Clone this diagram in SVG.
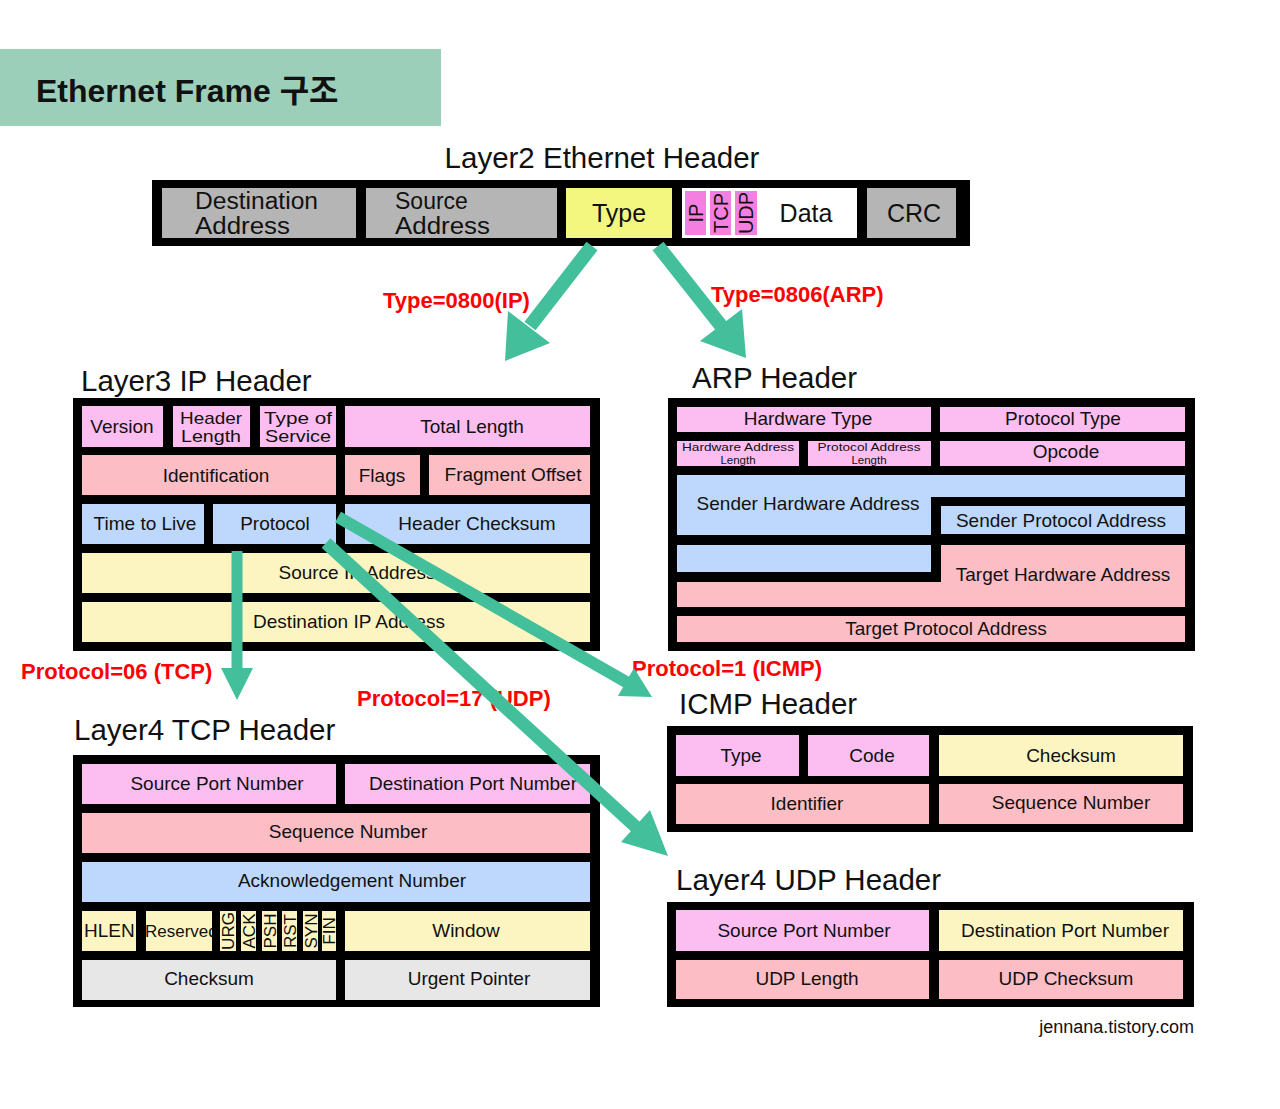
<svg xmlns="http://www.w3.org/2000/svg" width="1280" height="1109" viewBox="0 0 1280 1109">
<style>
text{font-family:"Liberation Sans",Arial,"Noto Sans CJK KR",sans-serif;fill:#111}
.t{font-size:19px;text-anchor:middle}
.t2{font-size:17px;text-anchor:middle}
.ts{font-size:11.5px;text-anchor:middle}
.te{font-size:23px}
.te1{font-size:25px}
.tm{text-anchor:middle}
.tf{font-size:17px;text-anchor:middle}
.h{font-size:29.5px}
.lbl{font-size:22px;font-weight:bold;fill:#ff0000}
.frame{fill:#000}
.pk{fill:#fcbdf0}
.sa{fill:#fdbdc5}
.bl{fill:#bdd8fc}
.yl{fill:#fdf5c1}
.gy{fill:#b5b5b5}
.lg{fill:#e7e7e7}
.ty{fill:#f4f77f}
.hp{fill:#f57fe1}
.wh{fill:#fff}
.shaft{stroke:#43bf9c;fill:none;stroke-linecap:butt}
.head{fill:#43bf9c}
</style>
<defs>
<clipPath id="clipRes"><rect x="146" y="911" width="66" height="40"/></clipPath>
</defs>
<rect width="1280" height="1109" fill="#fff"/>

<g id="title">
<rect x="0" y="49" width="441" height="77" fill="#9ccfba"/>
<text x="36" y="102" style="font-size:32px;font-weight:bold">Ethernet Frame 구조</text>
</g>

<g id="ethernet">
<text x="602" y="168" class="h tm">Layer2 Ethernet Header</text>
<rect class="frame" x="152" y="180" width="818" height="66"/>
<rect class="gy" x="162" y="188" width="194" height="50"/>
<text class="te" x="195" y="209" textLength="123" lengthAdjust="spacingAndGlyphs">Destination</text>
<text class="te" x="195" y="234" textLength="95" lengthAdjust="spacingAndGlyphs">Address</text>
<rect class="gy" x="366" y="188" width="191" height="50"/>
<text class="te" x="395" y="209">Source</text>
<text class="te" x="395" y="234" textLength="95" lengthAdjust="spacingAndGlyphs">Address</text>
<rect class="ty" x="566" y="188" width="106" height="50"/>
<text class="te1 tm" x="619" y="222">Type</text>
<rect class="wh" x="682" y="188" width="175" height="50"/>
<rect class="hp" x="685" y="191" width="21" height="44"/>
<rect class="hp" x="710" y="191" width="21" height="44"/>
<rect class="hp" x="735" y="191" width="22" height="44"/>
<text class="tm" style="font-size:20px" transform="translate(695.5,213) rotate(-90)" y="7">IP</text>
<text class="tm" style="font-size:20px" transform="translate(720.5,213) rotate(-90)" y="7">TCP</text>
<text class="tm" style="font-size:20px" transform="translate(746,213) rotate(-90)" y="7">UDP</text>
<text class="te1 tm" x="806" y="222">Data</text>
<rect class="gy" x="867" y="188" width="89" height="50"/>
<text class="te1 tm" x="914" y="222">CRC</text>
</g>

<g id="ip">
<text x="81" y="391" class="h">Layer3 IP Header</text>
<rect class="frame" x="73" y="398" width="527" height="253"/>
<rect class="pk" x="82" y="406" width="81" height="41"/>
<text class="t" x="122" y="433">Version</text>
<rect class="pk" x="173" y="406" width="77" height="41"/>
<text class="t2" x="211" y="424" textLength="62" lengthAdjust="spacingAndGlyphs">Header</text>
<text class="t2" x="211" y="442" textLength="60" lengthAdjust="spacingAndGlyphs">Length</text>
<rect class="pk" x="260" y="406" width="76" height="41"/>
<text class="t2" x="298" y="424" textLength="68" lengthAdjust="spacingAndGlyphs">Type of</text>
<text class="t2" x="298" y="442" textLength="66" lengthAdjust="spacingAndGlyphs">Service</text>
<rect class="pk" x="345" y="406" width="245" height="41"/>
<text class="t" x="472" y="433">Total Length</text>
<rect class="sa" x="82" y="455" width="254" height="40"/>
<text class="t" x="216" y="482">Identification</text>
<rect class="sa" x="345" y="455" width="75" height="40"/>
<text class="t" x="382" y="482">Flags</text>
<rect class="sa" x="429" y="455" width="161" height="40"/>
<text class="t" x="513" y="481">Fragment Offset</text>
<rect class="bl" x="82" y="504" width="122" height="40"/>
<text class="t" x="145" y="530">Time to Live</text>
<rect class="bl" x="213" y="504" width="123" height="40"/>
<text class="t" x="275" y="530">Protocol</text>
<rect class="bl" x="345" y="504" width="245" height="40"/>
<text class="t" x="477" y="530">Header Checksum</text>
<rect class="yl" x="82" y="553" width="508" height="40"/>
<text class="t" x="357" y="579">Source IP Address</text>
<rect class="yl" x="82" y="602" width="508" height="40"/>
<text class="t" x="349" y="628">Destination IP Address</text>
</g>

<g id="arp">
<text x="692" y="388" class="h">ARP Header</text>
<rect class="frame" x="668" y="398" width="527" height="253"/>
<rect class="pk" x="677" y="407" width="254" height="25"/>
<text class="t" x="808" y="425">Hardware Type</text>
<rect class="pk" x="940" y="407" width="245" height="25"/>
<text class="t" x="1063" y="425">Protocol Type</text>
<rect class="pk" x="677" y="441" width="122" height="25"/>
<text class="ts" x="738" y="451" textLength="112" lengthAdjust="spacingAndGlyphs">Hardware Address</text>
<text class="ts" x="738" y="464">Length</text>
<rect class="pk" x="808" y="441" width="123" height="25"/>
<text class="ts" x="869" y="451" textLength="103" lengthAdjust="spacingAndGlyphs">Protocol Address</text>
<text class="ts" x="869" y="464">Length</text>
<rect class="pk" x="940" y="441" width="245" height="25"/>
<text class="t" x="1066" y="458">Opcode</text>
<polygon class="bl" points="677,475 1185,475 1185,497 931,497 931,535 677,535"/>
<text class="t" x="808" y="510">Sender Hardware Address</text>
<rect class="bl" x="941" y="506" width="244" height="28"/>
<text class="t" x="1061" y="527">Sender Protocol Address</text>
<rect class="bl" x="677" y="545" width="254" height="27"/>
<polygon class="sa" points="941,545 1185,545 1185,607 677,607 677,582 941,582"/>
<text class="t" x="1063" y="581">Target Hardware Address</text>
<rect class="sa" x="677" y="616" width="508" height="26"/>
<text class="t" x="946" y="635">Target Protocol Address</text>
</g>

<g id="tcp">
<text x="74" y="740" class="h">Layer4 TCP Header</text>
<rect class="frame" x="73" y="755" width="527" height="252"/>
<rect class="pk" x="82" y="764" width="254" height="40"/>
<text class="t" x="217" y="790">Source Port Number</text>
<rect class="pk" x="345" y="764" width="245" height="40"/>
<text class="t" x="473" y="790">Destination Port Number</text>
<rect class="sa" x="82" y="813" width="508" height="40"/>
<text class="t" x="348" y="838">Sequence Number</text>
<rect class="bl" x="82" y="862" width="508" height="40"/>
<text class="t" x="352" y="887">Acknowledgement Number</text>
<rect class="yl" x="82" y="911" width="54" height="40"/>
<text x="84" y="937" style="font-size:19px">HLEN</text>
<rect class="yl" x="146" y="911" width="66" height="40"/>
<text x="145" y="937" style="font-size:17px" clip-path="url(#clipRes)">Reserved</text>
<rect class="yl" x="220" y="911" width="16" height="40"/>
<rect class="yl" x="241" y="911" width="15" height="40"/>
<rect class="yl" x="262" y="911" width="15" height="40"/>
<rect class="yl" x="282" y="911" width="15" height="40"/>
<rect class="yl" x="303" y="911" width="15" height="40"/>
<rect class="yl" x="322" y="911" width="14" height="40"/>
<text class="tf" transform="translate(228,931) rotate(-90)" y="6">URG</text>
<text class="tf" transform="translate(248.5,931) rotate(-90)" y="6">ACK</text>
<text class="tf" transform="translate(269.5,931) rotate(-90)" y="6">PSH</text>
<text class="tf" transform="translate(289.5,931) rotate(-90)" y="6">RST</text>
<text class="tf" transform="translate(310.5,931) rotate(-90)" y="6">SYN</text>
<text class="tf" transform="translate(329,931) rotate(-90)" y="6">FIN</text>
<rect class="yl" x="345" y="911" width="245" height="40"/>
<text class="t" x="466" y="937">Window</text>
<rect class="lg" x="82" y="960" width="254" height="40"/>
<text class="t" x="209" y="985">Checksum</text>
<rect class="lg" x="345" y="960" width="245" height="40"/>
<text class="t" x="469" y="985">Urgent Pointer</text>
</g>

<g id="icmp">
<text x="679" y="714" class="h">ICMP Header</text>
<rect class="frame" x="667" y="726" width="526" height="106"/>
<rect class="pk" x="676" y="735" width="123" height="41"/>
<text class="t" x="741" y="762">Type</text>
<rect class="pk" x="808" y="735" width="121" height="41"/>
<text class="t" x="872" y="762">Code</text>
<rect class="yl" x="939" y="735" width="244" height="41"/>
<text class="t" x="1071" y="762">Checksum</text>
<rect class="sa" x="676" y="784" width="253" height="40"/>
<text class="t" x="807" y="810">Identifier</text>
<rect class="sa" x="939" y="784" width="244" height="40"/>
<text class="t" x="1071" y="809">Sequence Number</text>
</g>

<g id="udp">
<text x="676" y="890" class="h">Layer4 UDP Header</text>
<rect class="frame" x="667" y="902" width="527" height="105"/>
<rect class="pk" x="676" y="910" width="253" height="41"/>
<text class="t" x="804" y="937">Source Port Number</text>
<rect class="yl" x="939" y="910" width="244" height="41"/>
<text class="t" x="1065" y="937">Destination Port Number</text>
<rect class="sa" x="676" y="960" width="253" height="39"/>
<text class="t" x="807" y="985">UDP Length</text>
<rect class="sa" x="939" y="960" width="244" height="39"/>
<text class="t" x="1066" y="985">UDP Checksum</text>
</g>

<g id="labels">
<text class="lbl" x="383" y="308">Type=0800(IP)</text>
<text class="lbl" x="711" y="302">Type=0806(ARP)</text>
<text class="lbl" x="21" y="679">Protocol=06 (TCP)</text>
<text class="lbl" x="357" y="706">Protocol=17 (UDP)</text>
<text class="lbl" x="632" y="676">Protocol=1 (ICMP)</text>
<text x="1194" y="1033" style="font-size:18px;text-anchor:end">jennana.tistory.com</text>
</g>

<g id="connectors">
<line class="shaft" x1="592" y1="246" x2="530" y2="326" stroke-width="14"/>
<polygon class="head" points="505,361 550,343 508,311"/>
<line class="shaft" x1="658" y1="246" x2="722" y2="327" stroke-width="14"/>
<polygon class="head" points="746,358 742,309 700,341"/>
<line class="shaft" x1="237" y1="551" x2="237" y2="670" stroke-width="11"/>
<polygon class="head" points="237,700 221,668 253,668"/>
<line class="shaft" x1="326" y1="543" x2="637" y2="828" stroke-width="13"/>
<polygon class="head" points="668,856 650,810 621,842"/>
<line class="shaft" x1="338" y1="517" x2="628" y2="683" stroke-width="12"/>
<polygon class="head" points="652,697 634,668 618,696"/>
</g>
</svg>
